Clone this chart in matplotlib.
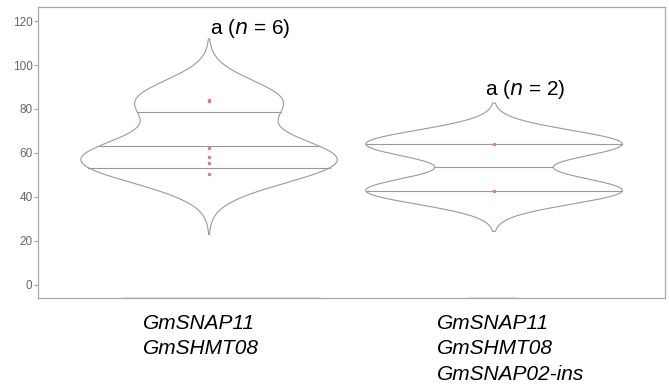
import numpy as np
import matplotlib
matplotlib.use("Agg")
import matplotlib.pyplot as plt

plt.rcParams['font.family'] = ['Liberation Sans', 'DejaVu Sans']

# measured values per genotype group
groups = ["GmSNAP11\nGmSHMT08", "GmSNAP11\nGmSHMT08\nGmSNAP02-ins"]
values = [
    [50.5, 55.5, 58.2, 62.3, 83.6, 84.3],
    [42.9, 64.1],
]
letters = ["a", "a"]
yticks = [0, 20, 40, 60, 80, 100, 120]


def bw_nrd0(x):
    x = np.asarray(x, float)
    sd = np.std(x, ddof=1)
    q75, q25 = np.percentile(x, [75, 25])
    lo = min(sd, (q75 - q25) / 1.34)
    return 0.9 * lo * len(x) ** -0.2


def violin_density(x):
    x = np.asarray(x, float)
    bw = bw_nrd0(x)
    grid = np.linspace(x.min() - 3 * bw, x.max() + 3 * bw, 512)
    dens = np.exp(-0.5 * ((grid[:, None] - x[None, :]) / bw) ** 2).sum(axis=1)
    dens /= len(x) * bw * np.sqrt(2 * np.pi)
    return grid, dens


fig = plt.figure(figsize=(6.69, 3.88), dpi=100)
ax = fig.add_axes([0.057, 0.232, 0.937, 0.75])

line_col = "#9a9a9a"
half = 0.45
label_dx = [1, -9]
label_dy = [10, 14]
for i, vals in enumerate(values):
    pos = i + 1
    y, d = violin_density(vals)
    w = d / d.max() * half
    ax.plot(np.r_[pos - w, (pos + w)[::-1], pos - w[0]],
            np.r_[y, y[::-1], y[0]], color=line_col, lw=0.8)
    # quartile lines from the density's cumulative distribution
    cdf = np.cumsum(d) / d.sum()
    for q in (0.25, 0.5, 0.75):
        yq = np.interp(q, cdf, y)
        wq = np.interp(yq, y, w)
        ax.plot([pos - wq, pos + wq], [yq, yq], color=line_col, lw=0.8)
    ax.plot([pos] * len(vals), vals, "o", color="#e8747a", ms=2.5, mec="none")
    ax.annotate(letters[i] + " ($\\it{n}$ = %d)" % len(vals),
                xy=(pos, max(y)), xytext=(label_dx[i], label_dy[i]),
                textcoords="offset pixels", fontsize=15, ha="left", va="center")

ax.set_xlim(0.4, 2.6)
ax.set_ylim(-6, 126.4)
ax.set_yticks(yticks)
ax.set_xticks([1, 2])
ax.set_xticklabels([])
ax.tick_params(axis="y", colors="#a0a0a0", labelcolor="#666666", labelsize=8.5,
               length=3, width=0.8, pad=1)
ax.tick_params(axis="x", length=0)
for s in ax.spines.values():
    s.set_color("#aaaaaa")
    s.set_linewidth(0.9)

# faded stretches along the bottom edge
for a, b in [(0.136, 0.452), (0.685, 0.765)]:
    ax.plot([a, b], [0, 0], transform=ax.transAxes, color="#e4e4e4",
            lw=1.6, clip_on=False, solid_capstyle="butt")

for i, lab in enumerate(groups):
    ax.annotate(lab, xy=(i + 1, 0), xycoords=("data", "axes fraction"),
                xytext=(-66 if i == 0 else -57, -16), textcoords="offset pixels",
                ha="left", va="top", fontsize=15, style="italic",
                linespacing=1.42)

fig.savefig("out.png", dpi=100)
